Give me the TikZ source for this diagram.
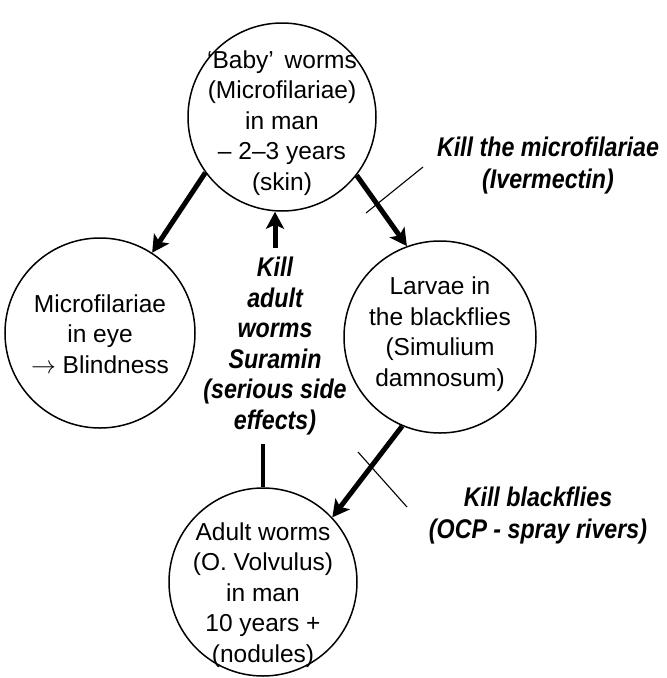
\documentclass[tikz,border=0pt]{standalone}
\usepackage{fontspec}
\setmainfont{Liberation Sans}
\newfontfamily\killfont[FakeStretch=0.86]{Liberation Sans}
\usetikzlibrary{arrows.meta}
\begin{document}
\begin{tikzpicture}[x=1pt,y=-1pt,
  blob/.style={circle, draw, line width=1.5pt, inner sep=0pt, minimum size=#1},
  ctext/.style={align=center, font=\fontsize{24.5}{30.5}\selectfont, inner sep=0pt},
  killtext/.style={align=center, font=\killfont\bfseries\itshape\fontsize{27}{32}\selectfont, inner sep=0pt},
  bigarrow/.style={line width=5pt, -{Stealth[length=17pt,width=18pt,inset=4pt]}},
  crossline/.style={line width=1.1pt}]
\useasboundingbox (0,0) rectangle (667,678);

% circles
\node[blob=188pt] (top) at (282,117) {};
\node[blob=190pt] (left) at (100,333) {};
\node[blob=192pt] (right) at (440,337) {};
\node[blob=188pt] (bottom) at (263,582) {};

% circle texts
\node[ctext] (toptxt) at (282,123) {`Baby'\, worms\\(Microfilariae)\\in man\\-- 2--3 years\\(skin)};
\node[ctext] (lefttxt) at (100,334) {Microfilariae\\in eye\\$\rightarrow$ Blindness};
\node[ctext] (righttxt) at (440,334) {Larvae in\\the blackflies\\(Simulium\\damnosum)};
\node[ctext] (bottomtxt) at (263,595) {Adult worms\\(O. Volvulus)\\in man\\10 years +\\(nodules)};

% labels
\node[killtext] (ivermectin) at (548,166) {Kill the microfilariae\\(Ivermectin)};
\node[killtext] (ocp) at (538,516) {Kill blackflies\\(OCP - spray rivers)};
\node[killtext, font=\killfont\bfseries\itshape\fontsize{27}{30.5}\selectfont, inner sep=9pt] (suramin) at (275,346) {Kill\\adult\\worms\\Suramin\\(serious side\\effects)};

% arrows
\draw[bigarrow] (top.216) -- (left.57);
\draw[bigarrow] (top.322) -- (right.110);
\draw[bigarrow] (right.247) -- (bottom.43);
\draw[bigarrow] (suramin.north) -- (suramin.north |- top.south);
\draw[line width=4pt] (suramin.south -| bottom.north) -- (bottom.north);

% crossing lines
\coordinate (c1a) at (366,213);
\coordinate (c1b) at (423,167);
\coordinate (c2a) at (358,452);
\coordinate (c2b) at (407,507);
\draw[crossline] (c1a) -- (c1b);
\draw[crossline] (c2a) -- (c2b);
\end{tikzpicture}
\end{document}
